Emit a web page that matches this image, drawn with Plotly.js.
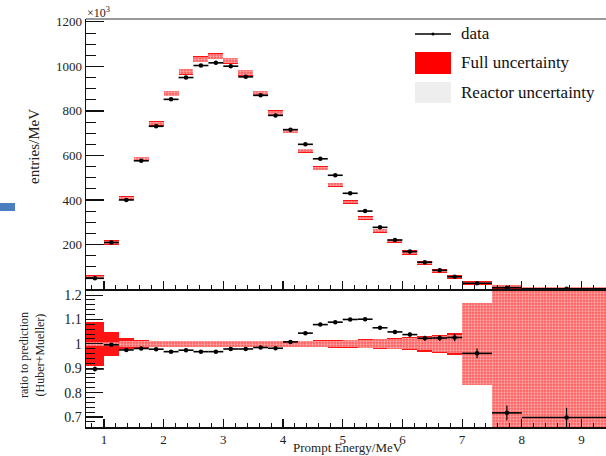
<!DOCTYPE html>
<html>
<head>
<meta charset="utf-8">
<script src="https://cdn.plot.ly/plotly-3.0.1.min.js"></script>
<style>
  html, body { margin: 0; padding: 0; background: #ffffff; }
  #chart { width: 606px; height: 456px; }
</style>
</head>
<body>
<div id="chart"></div>
<script>
// ---------------- data ----------------
const binEdges = [0.7, 1.0, 1.25, 1.5, 1.75, 2.0, 2.25, 2.5, 2.75, 3.0, 3.25, 3.5, 3.75, 4.0,
                  4.25, 4.5, 4.75, 5.0, 5.25, 5.5, 5.75, 6.0, 6.25, 6.5, 6.75, 7.0, 7.5, 8.0, 9.5];

// measured entries/MeV (x10^3)
const dataEntries = [48, 209, 400, 576, 731, 852, 950, 1004, 1016, 1001, 953, 870, 780, 716,
                     650, 585, 511, 430, 350, 277, 220, 168, 120, 84, 55, 26, 6, 1];
const dataEntriesErr = [3, 5, 6, 6, 7, 7, 7, 7, 7, 7, 7, 7, 6, 6,
                        6, 6, 5, 5, 5, 4, 4, 4, 3, 3, 3, 2, 2, 1];

// prediction (Huber+Mueller) entries/MeV (x10^3)
const predEntries = [53, 210, 409, 586, 743, 878, 976, 1033, 1046, 1025, 971, 878, 792, 710,
                     622, 543, 468, 391, 319, 262, 217, 164, 117, 81, 54, 27, 10, 1.5];

// ratio data / prediction
const ratioValues = [0.897, 0.996, 0.975, 0.981, 0.978, 0.968, 0.974, 0.968, 0.968, 0.979, 0.979, 0.985, 0.982, 1.008,
                     1.044, 1.079, 1.089, 1.100, 1.101, 1.066, 1.049, 1.038, 1.023, 1.024, 1.026, 0.961, 0.717, 0.698];
const ratioErr = [0.010, 0.004, 0.003, 0.003, 0.003, 0.003, 0.003, 0.003, 0.003, 0.003, 0.003, 0.003, 0.003, 0.004,
                  0.004, 0.004, 0.005, 0.005, 0.006, 0.007, 0.008, 0.009, 0.010, 0.012, 0.015, 0.020, 0.030, 0.040];

// relative uncertainties of the prediction (half widths)
const fullUnc = [0.089, 0.048, 0.022, 0.015, 0.013, 0.013, 0.013, 0.013, 0.013, 0.013, 0.013, 0.013, 0.013, 0.013,
                 0.013, 0.014, 0.015, 0.016, 0.018, 0.020, 0.023, 0.027, 0.032, 0.037, 0.044, 0.168, 0.600, 0.600];
const reactorUnc = [0.008, 0.009, 0.012, 0.012, 0.011, 0.011, 0.011, 0.011, 0.011, 0.011, 0.011, 0.011, 0.011, 0.011,
                    0.011, 0.012, 0.013, 0.014, 0.016, 0.018, 0.020, 0.023, 0.027, 0.032, 0.038, 0.168, 0.600, 0.600];

const xTickVals = [1, 2, 3, 4, 5, 6, 7, 8, 9];
const yTopTickVals = [200, 400, 600, 800, 1000, 1200];
const yRatioTickVals = [0.7, 0.8, 0.9, 1.0, 1.1, 1.2];
const yRatioTickText = ['0.7', '0.8', '0.9', '1', '1.1', '1.2'];

// ---------------- derived bin geometry ----------------
const centers = [], widths = [], halfW = [];
for (let i = 0; i < binEdges.length - 1; i++) {
  centers.push((binEdges[i] + binEdges[i + 1]) / 2);
  widths.push(binEdges[i + 1] - binEdges[i]);
  halfW.push((binEdges[i + 1] - binEdges[i]) / 2);
}

// ---------------- styles ----------------
const FONT = '"Liberation Serif", serif';
const RED = '#ff1414';
const MIN_TOP_BOX = 9;      // minimal visual half-height of boxes in the top panel
const MIN_TOP_REACTOR = 6;

function band(valArr, uncArr, scaleByVal, minHalf) {
  const base = [], h = [];
  for (let i = 0; i < valArr.length; i++) {
    let half = scaleByVal ? valArr[i] * uncArr[i] : uncArr[i];
    if (minHalf) half = Math.max(half, minHalf);
    base.push(valArr[i] - half);
    h.push(2 * half);
  }
  return { base, h };
}

const topFull = band(predEntries, fullUnc, true, MIN_TOP_BOX);
const topReac = band(predEntries, reactorUnc, true, MIN_TOP_REACTOR);
const ones = predEntries.map(() => 1);
const botFull = band(ones, fullUnc, false, 0);
const botReac = band(ones, reactorUnc, false, 0);

const reactorMarker = {
  color: 'rgba(255,215,215,0.75)',
  line: { width: 0 },
  pattern: { shape: '.', fgcolor: 'rgba(255,255,255,0.95)', bgcolor: 'rgba(255,150,150,0.55)', size: 3, solidity: 0.45, fillmode: 'overlay' }
};

const traces = [
  // top panel
  { type: 'bar', x: centers, y: topFull.h, base: topFull.base, width: widths,
    xaxis: 'x2', yaxis: 'y2', marker: { color: RED, line: { width: 0 } }, showlegend: false, hoverinfo: 'skip' },
  { type: 'bar', x: centers, y: topReac.h, base: topReac.base, width: widths,
    xaxis: 'x2', yaxis: 'y2', marker: reactorMarker, showlegend: false, hoverinfo: 'skip' },
  { type: 'scatter', mode: 'markers', x: centers, y: dataEntries, xaxis: 'x2', yaxis: 'y2',
    marker: { color: '#000', size: 4.5, symbol: 'circle' },
    error_x: { type: 'data', array: halfW, color: '#000', thickness: 1.6, width: 0 },
    error_y: { type: 'data', array: dataEntriesErr, color: '#000', thickness: 1.2, width: 0 },
    showlegend: false, hoverinfo: 'skip' },
  // bottom (ratio) panel
  { type: 'bar', x: centers, y: botFull.h, base: botFull.base, width: widths,
    xaxis: 'x', yaxis: 'y', marker: { color: RED, line: { width: 0 } }, showlegend: false, hoverinfo: 'skip' },
  { type: 'bar', x: centers, y: botReac.h, base: botReac.base, width: widths,
    xaxis: 'x', yaxis: 'y', marker: reactorMarker, showlegend: false, hoverinfo: 'skip' },
  { type: 'scatter', mode: 'markers', x: centers, y: ratioValues, xaxis: 'x', yaxis: 'y',
    marker: { color: '#000', size: 4.5, symbol: 'circle' },
    error_x: { type: 'data', array: halfW, color: '#000', thickness: 1.6, width: 0 },
    error_y: { type: 'data', array: ratioErr, color: '#000', thickness: 1.2, width: 0 },
    showlegend: false, hoverinfo: 'skip' }
];

// pixel -> paper helpers (plot area: x 86..606, y 19..427)
const L = 86, T = 19, W = 520, H = 408;
const px = (x) => (x - L) / W;
const py = (y) => (T + H - y) / H;
const splitY = py(289);

const axisCommon = {
  showline: true, linecolor: '#111', linewidth: 1.5, zeroline: false, showgrid: false,
  ticks: 'inside', tickcolor: '#111', tickwidth: 1.2,
  tickfont: { family: FONT, size: 14, color: '#222' }
};

const layout = {
  width: 606, height: 456,
  margin: { l: L, r: 0, t: T, b: 456 - T - H, pad: 0, autoexpand: false },
  paper_bgcolor: '#ffffff', plot_bgcolor: '#ffffff',
  barmode: 'overlay', bargap: 0,
  showlegend: false,
  font: { family: FONT, color: '#222' },
  xaxis: Object.assign({}, axisCommon, {
    domain: [0, 1], anchor: 'y', range: [0.7, 0.7 + W / 59.7],
    tickmode: 'array', tickvals: xTickVals, ticklen: 8,
    tickfont: { family: FONT, size: 13, color: '#222' },
    minor: { tickmode: 'linear', tick0: 0, dtick: 0.2, ticks: 'inside', ticklen: 4, tickcolor: '#111', tickwidth: 1 }
  }),
  xaxis2: Object.assign({}, axisCommon, {
    domain: [0, 1], anchor: 'y2', matches: 'x', range: [0.7, 0.7 + W / 59.7],
    showticklabels: false, tickmode: 'array', tickvals: xTickVals, ticklen: 8,
    minor: { tickmode: 'linear', tick0: 0, dtick: 0.2, ticks: 'inside', ticklen: 4, tickcolor: '#111', tickwidth: 1 }
  }),
  yaxis: Object.assign({}, axisCommon, {
    domain: [0, splitY], anchor: 'x', range: [0.659, 1.225],
    tickmode: 'array', tickvals: yRatioTickVals, ticktext: yRatioTickText, ticklen: 17,
    minor: { tickmode: 'linear', tick0: 0, dtick: 0.02, ticks: 'inside', ticklen: 9, tickcolor: '#111', tickwidth: 1 }
  }),
  yaxis2: Object.assign({}, axisCommon, {
    domain: [splitY, 1], anchor: 'x2', range: [0, 1213],
    tickmode: 'array', tickvals: yTopTickVals, ticklen: 18,
    tickfont: { family: FONT, size: 13, color: '#222' },
    minor: { tickmode: 'linear', tick0: 0, dtick: 50, ticks: 'inside', ticklen: 10, tickcolor: '#111', tickwidth: 1 }
  }),
  shapes: [
    // top frame line
    { type: 'line', xref: 'paper', yref: 'paper', x0: 0, x1: 1, y0: 1, y1: 1, line: { color: '#777', width: 1.5 } },
    // legend: data line
    { type: 'line', xref: 'paper', yref: 'paper', x0: px(415), x1: px(451), y0: py(34), y1: py(34), line: { color: '#000', width: 1.5 } },
    { type: 'circle', xref: 'paper', yref: 'paper', x0: px(431.5), x1: px(434.5), y0: py(32.5), y1: py(35.5), fillcolor: '#000', line: { width: 0 } },
    // legend: full uncertainty box
    { type: 'rect', xref: 'paper', yref: 'paper', x0: px(415), x1: px(451), y0: py(74), y1: py(52), fillcolor: '#ff0000', line: { width: 0 } },
    // legend: reactor uncertainty box
    { type: 'rect', xref: 'paper', yref: 'paper', x0: px(415), x1: px(451), y0: py(103), y1: py(82), fillcolor: '#eeeeee', line: { width: 0 } },
    // blue slide fragment at left edge
    { type: 'rect', xref: 'paper', yref: 'paper', x0: px(0), x1: px(15), y0: py(211), y1: py(203), fillcolor: '#4a7ebf', line: { width: 0 } }
  ],
  annotations: [
    { text: 'data', xref: 'paper', yref: 'paper', x: px(459), y: py(34), xanchor: 'left', yanchor: 'middle', showarrow: false,
      font: { family: FONT, size: 17, color: '#111' } },
    { text: 'Full uncertainty', xref: 'paper', yref: 'paper', x: px(459), y: py(63), xanchor: 'left', yanchor: 'middle', showarrow: false,
      font: { family: FONT, size: 17, color: '#111' } },
    { text: 'Reactor uncertainty', xref: 'paper', yref: 'paper', x: px(459), y: py(92), xanchor: 'left', yanchor: 'middle', showarrow: false,
      font: { family: FONT, size: 17, color: '#111' } },
    { text: '×10<sup>3</sup>', xref: 'paper', yref: 'paper', x: px(85), y: py(12), xanchor: 'left', yanchor: 'middle', showarrow: false,
      font: { family: FONT, size: 12, color: '#222' } },
    { text: 'entries/MeV', xref: 'paper', yref: 'paper', x: px(34), y: py(147), xanchor: 'center', yanchor: 'middle', textangle: -90, showarrow: false,
      font: { family: FONT, size: 15, color: '#222' } },
    { text: 'ratio to prediction<br>(Huber+Mueller)', xref: 'paper', yref: 'paper', x: px(32), y: py(355), xanchor: 'center', yanchor: 'middle', textangle: -90, showarrow: false,
      font: { family: FONT, size: 12, color: '#222' } },
    { text: 'Prompt Energy/MeV', xref: 'paper', yref: 'paper', x: px(348), y: py(447.5), xanchor: 'center', yanchor: 'middle', showarrow: false,
      font: { family: FONT, size: 13, color: '#222' } }
  ]
};

Plotly.newPlot('chart', traces, layout, { staticPlot: true, displayModeBar: false });
</script>
</body>
</html>
